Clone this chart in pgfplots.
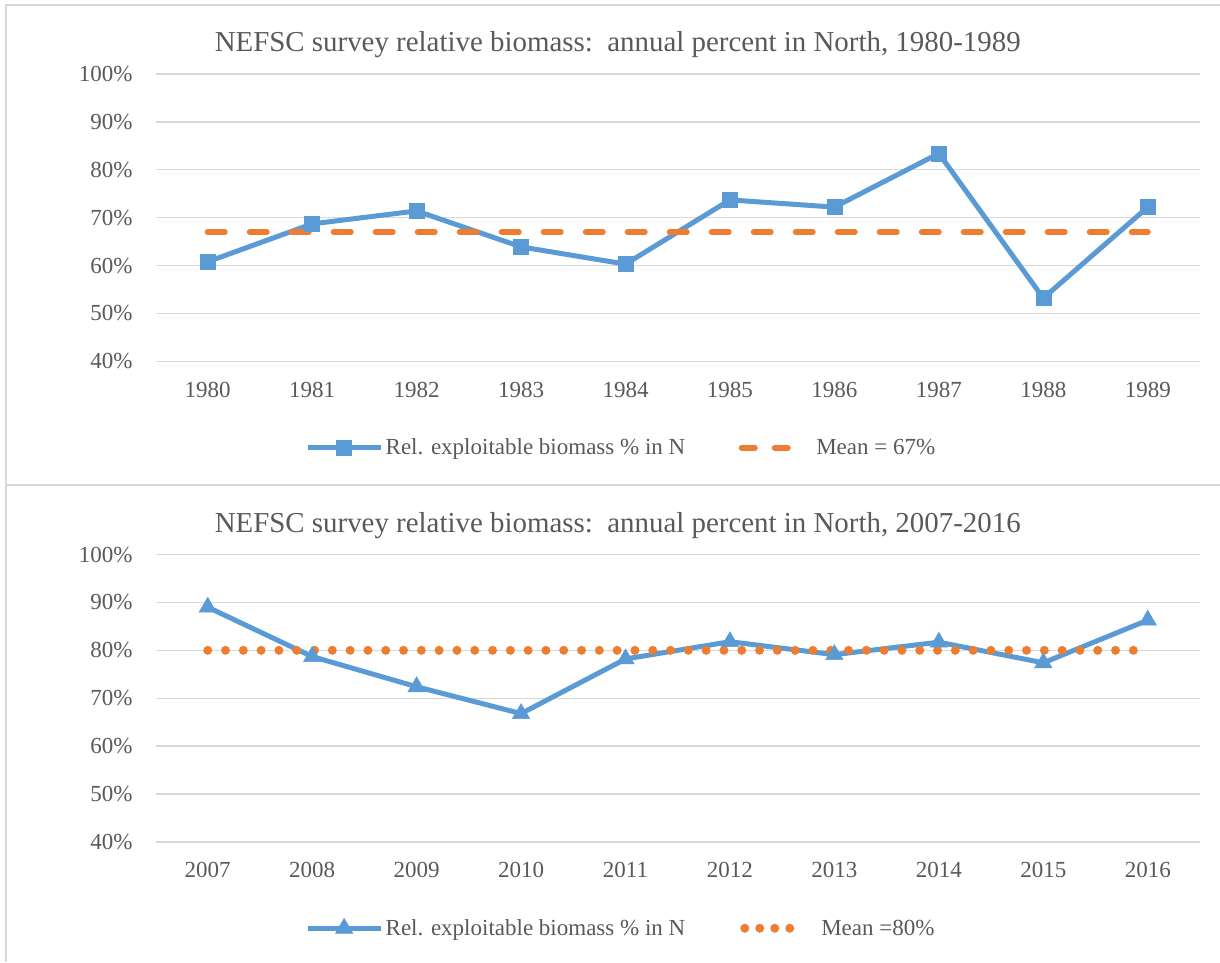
\documentclass[border=0pt]{standalone}
\usepackage{pgfplots}
\pgfplotsset{compat=1.18}
\usepackage{fontspec}
\setmainfont{Liberation Serif}
\definecolor{sblue}{HTML}{5B9BD5}
\definecolor{sorange}{HTML}{ED7D31}
\definecolor{txtgrey}{HTML}{595959}
\definecolor{gridgrey}{HTML}{D9D9D9}

\pgfplotstableread{
x y
0 60.8
1 68.7
2 71.4
3 63.9
4 60.3
5 73.7
6 72.2
7 83.4
8 53.2
9 72.2
}\topdata
\pgfplotstableread{
x y
0 67
9 67
}\topmean
\pgfplotstableread{
x y
0 89.0
1 78.7
2 72.4
3 66.8
4 78.2
5 81.8
6 79.1
7 81.7
8 77.4
9 86.3
}\botdata
\pgfplotstableread{
x y
0 80
9 80
}\botmean

\pgfplotsset{
  lineleg/.style={legend image code/.code={\draw[mark repeat=2,mark phase=2,##1] plot coordinates {(0pt,0pt)(36.5pt,0pt)(73pt,0pt)};}},
  dashleg/.style={legend image code/.code={\path[draw=none] (0pt,0pt) -- (76pt,0pt);\draw[##1, dash pattern=on 13pt off 20pt] (4pt,0pt) -- (50pt,0pt);}},
  dotleg/.style={legend image code/.code={\path[draw=none] (0pt,0pt) -- (81pt,0pt);\draw[##1, dash pattern=on 0pt off 15pt] (7pt,0pt) -- (52.5pt,0pt);}},
  myaxis/.style={
  scale only axis, width=1044.5pt, height=287.5pt,
  xmin=-0.5, xmax=9.5, ymin=40, ymax=100,
  ytick={40,50,...,100},
  xtick={0,...,9},
  axis line style={draw=none},
  ymajorgrids, grid style={draw=gridgrey, line width=1.4pt},
  major tick length=0pt,
  tick style={draw=none},
  yticklabel={\pgfmathprintnumber{\tick}\%},
  /pgf/number format/assume math mode=true,
  ticklabel style={font=\fontsize{23}{26}\selectfont, text=txtgrey, inner sep=0pt},
  yticklabel style={anchor=east, xshift=-22.8pt},
  xticklabel style={anchor=north, yshift=-21pt},
  clip=false,
  legend columns=2,
  legend cell align=left,
  legend style={draw=none, fill=none, font=\fontsize{23}{26}\selectfont, text=txtgrey,
    inner sep=0pt, at={(0.1431,-0.30)}, anchor=west,
    nodes={inner sep=2.5pt},
    /tikz/every even column/.append style={column sep=50pt}},
  title style={font=\fontsize{28.9}{32}\selectfont, text=txtgrey, at={(0.5,1)}, anchor=base, xshift=-60pt, yshift=16pt},
}}

\begin{document}
\begin{tikzpicture}
\path[use as bounding box] (0pt,0pt) rectangle (1220pt,962pt);
\draw[gridgrey, line width=1.5pt] (6pt,0pt) -- (6pt,957pt) -- (1220pt,957pt);
\draw[gridgrey, line width=1.5pt] (6pt,477pt) -- (1220pt,477pt);

\begin{axis}[myaxis, at={(155.5pt,600.6pt)}, anchor=south west,
  title={NEFSC survey relative biomass:\ \ annual percent in North, 1980-1989},
  xticklabels={1980,1981,1982,1983,1984,1985,1986,1987,1988,1989}]
\addplot[sblue, line width=5pt, mark=square*, mark size=7.5pt,
  mark options={solid, line width=0.5pt}, lineleg]
  table[x=x,y=y] {\topdata};
\addlegendentry{Rel. exploitable biomass \% in N}
\addplot[sorange, line width=6pt, line cap=round, dash pattern=on 17pt off 25pt, dashleg]
  table[x=x,y=y] {\topmean};
\addlegendentry{Mean = 67\%}
\end{axis}

\begin{axis}[myaxis, at={(155.5pt,120pt)}, anchor=south west,
  title={NEFSC survey relative biomass:\ \ annual percent in North, 2007-2016},
  xticklabel style={yshift=1pt},
  xticklabels={2007,2008,2009,2010,2011,2012,2013,2014,2015,2016}]
\addplot[sblue, line width=5pt, mark=triangle*, mark size=10pt,
  mark options={solid, line width=0.5pt}, lineleg]
  table[x=x,y=y] {\botdata};
\addlegendentry{Rel. exploitable biomass \% in N}
\addplot[sorange, line width=9pt, line cap=round, dash pattern=on 0pt off 17.8pt, dotleg]
  table[x=x,y=y] {\botmean};
\addlegendentry{Mean =80\%}
\end{axis}
\end{tikzpicture}
\end{document}
